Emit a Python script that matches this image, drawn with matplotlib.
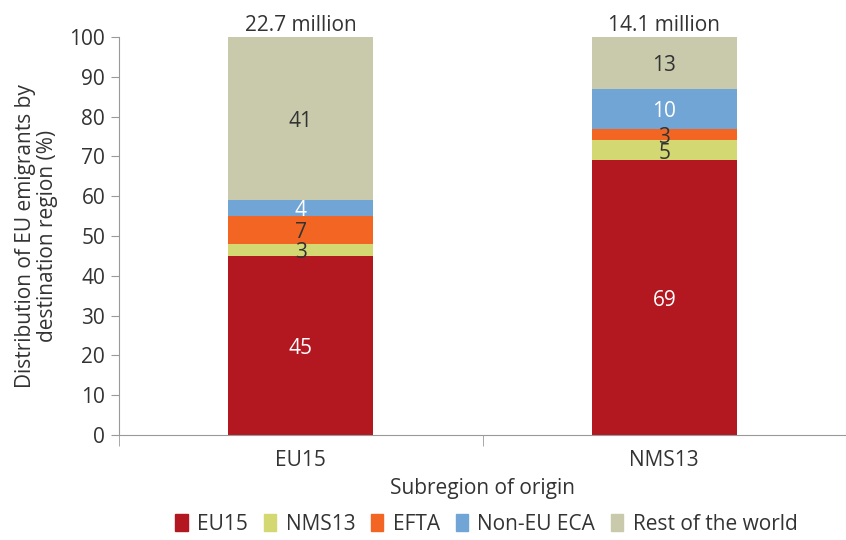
import matplotlib.pyplot as plt
from matplotlib.patches import Patch

plt.rcParams["font.family"] = ["Open Sans", "DejaVu Sans"]

# Share of EU emigrants by destination region (%)
origins = ["EU15", "NMS13"]
totals = ["22.7 million", "14.1 million"]
destinations = ["EU15", "NMS13", "EFTA", "Non-EU ECA", "Rest of the world"]
eu15_share = [45, 69]
nms13_share = [3, 5]
efta_share = [7, 3]
non_eu_eca_share = [4, 10]
rest_share = [41, 13]

series = [eu15_share, nms13_share, efta_share, non_eu_eca_share, rest_share]
colors = ["#B31820", "#D4D873", "#F26522", "#70A5D6", "#C8CAAB"]
label_colors = ["white", "#333333", "#333333", "white", "#333333"]
fs = 15

fig = plt.figure(figsize=(8.46, 5.40), dpi=100)
ax = fig.add_axes([0.1407, 0.1944, 0.8593, 0.7371])

x = range(len(origins))
bottom = [0, 0]
for values, color, tcolor in zip(series, colors, label_colors):
    bars = ax.bar(x, values, bottom=bottom, width=0.4, color=color)
    for bar, v, b in zip(bars, values, bottom):
        ax.text(bar.get_x() + bar.get_width() / 2, b + v / 2 - 0.7, str(v),
                ha="center", va="center", color=tcolor, fontsize=fs)
    bottom = [b + v for b, v in zip(bottom, values)]

for i, t in enumerate(totals):
    ax.text(i, bottom[i] + 0.3, t, ha="center", va="bottom",
            fontsize=fs, color="#333333")

ax.set_xlim(-0.5, 1.48)
ax.set_ylim(0, 100)
ax.set_yticks(range(0, 101, 10))
ax.set_xticks(list(x))
ax.set_xticklabels(origins)
ax.set_xticks([-0.5, 0.5, 1.5], minor=True)
ax.tick_params(axis="x", which="major", length=0, pad=11)
ax.tick_params(axis="x", which="minor", length=8, color="#999999")
ax.tick_params(axis="y", length=6, color="#999999", pad=4)
ax.tick_params(labelsize=fs, labelcolor="#333333")

for side in ["top", "right"]:
    ax.spines[side].set_visible(False)
for side in ["left", "bottom"]:
    ax.spines[side].set_color("#999999")

ax.set_xlabel("Subregion of origin", fontsize=fs, color="#333333", labelpad=5)
ax.set_ylabel("Distribution of EU emigrants by\ndestination region (%)",
              fontsize=fs, color="#333333", labelpad=8, linespacing=1.1)

handles = [Patch(color=c, label=d) for c, d in zip(colors, destinations)]
fig.legend(handles=handles, loc="lower center", ncol=5, frameon=False,
           bbox_to_anchor=(0.575, -0.025), fontsize=fs, handlelength=0.6,
           handleheight=0.9, columnspacing=0.75, handletextpad=0.45,
           labelcolor="#333333")

fig.savefig("out.png", dpi=100)
